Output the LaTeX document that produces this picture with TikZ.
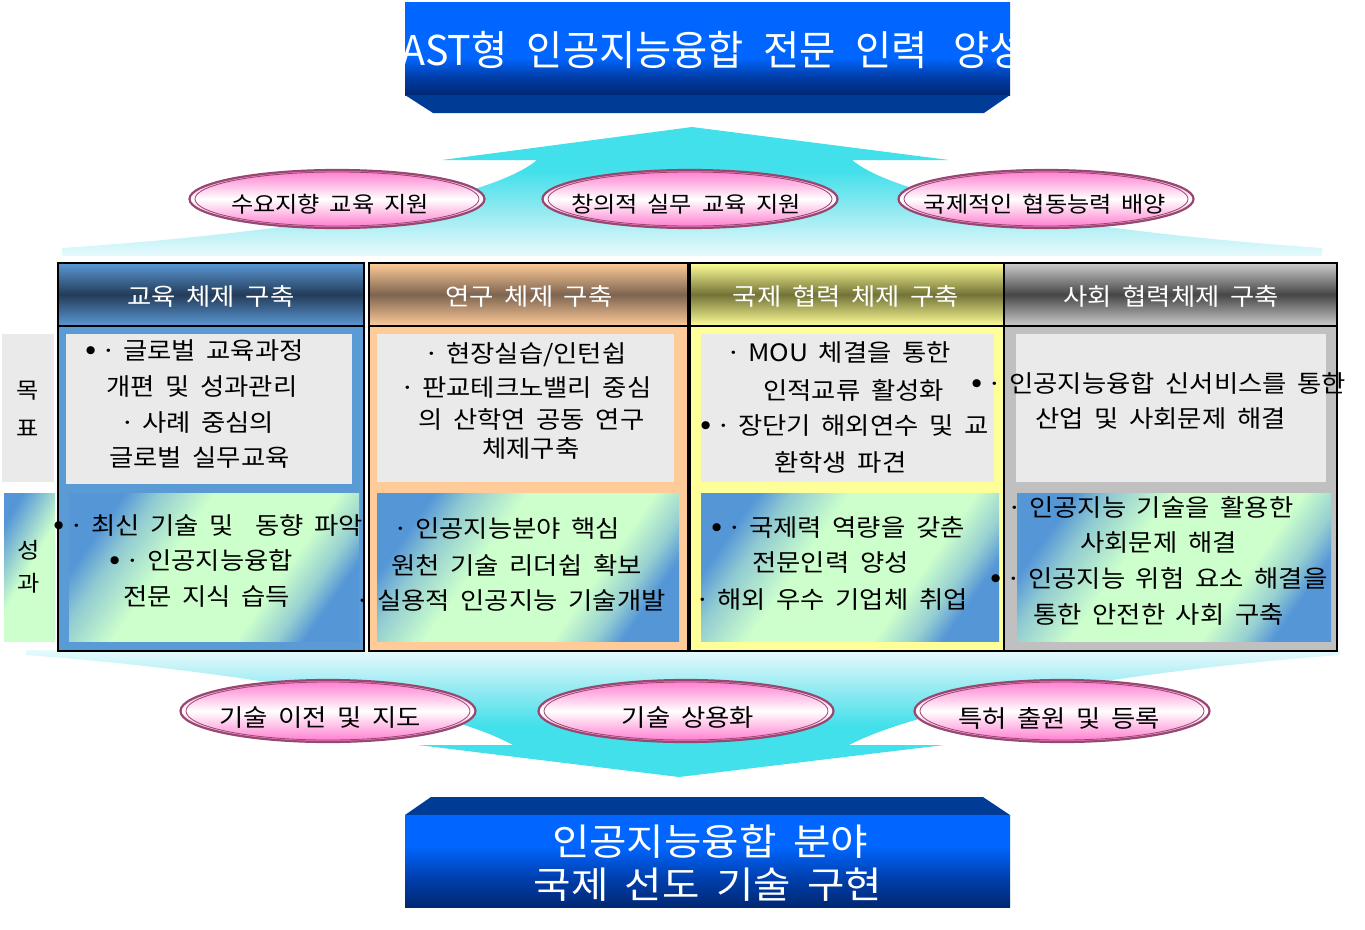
\documentclass[tikz,border=0pt]{standalone}
\usepackage{fontspec}
\setmainfont{Noto Sans CJK KR}[WordSpace=1.8,FakeStretch=1.1]
\newfontfamily\ttlfont{Noto Sans CJK KR}[WordSpace=2.2,FakeStretch=0.96]
\usetikzlibrary{shapes.geometric}
\definecolor{btop}{RGB}{0,102,255}
\definecolor{navy}{RGB}{0,40,115}
\definecolor{bmid}{RGB}{0,62,170}
\definecolor{trap}{RGB}{0,60,150}
\definecolor{cyanA}{RGB}{66,224,234}
\definecolor{cyanM}{RGB}{150,234,242}
\definecolor{cyanP}{RGB}{232,250,252}
\definecolor{pinkE}{RGB}{255,120,205}
\definecolor{ebord}{RGB}{150,72,112}
\definecolor{c1l}{RGB}{92,152,212}
\definecolor{c1d}{RGB}{35,60,90}
\definecolor{c1b}{RGB}{91,155,213}
\definecolor{c2l}{RGB}{255,204,153}
\definecolor{c2d}{RGB}{125,100,80}
\definecolor{c3l}{RGB}{255,255,153}
\definecolor{c3d}{RGB}{115,115,55}
\definecolor{c4l}{RGB}{205,205,205}
\definecolor{c4d}{RGB}{70,70,70}
\definecolor{c4b}{RGB}{192,192,192}
\definecolor{boxg}{RGB}{234,234,234}
\definecolor{rblue}{RGB}{85,150,215}
\definecolor{rgreen}{RGB}{204,255,204}
\pgfdeclareverticalshading{titlesh}{100bp}{color(0bp)=(navy); color(25bp)=(navy); color(35bp)=(bmid); color(45bp)=(btop); color(100bp)=(btop)}
\pgfdeclareverticalshading{botsh}{100bp}{color(0bp)=(navy); color(25bp)=(navy); color(40bp)=(bmid); color(58bp)=(btop); color(100bp)=(btop)}
\pgfdeclareverticalshading{upsh}{100bp}{color(0bp)=(cyanP); color(25bp)=(cyanP); color(42bp)=(cyanM); color(58bp)=(cyanA); color(100bp)=(cyanA)}
\pgfdeclareverticalshading{downsh}{100bp}{color(0bp)=(cyanA); color(45bp)=(cyanA); color(60bp)=(cyanM); color(75bp)=(cyanP); color(100bp)=(cyanP)}
\pgfdeclarehorizontalshading{ressh}{100bp}{color(0bp)=(rblue); color(25bp)=(rblue); color(31bp)=(rgreen!50!rblue); color(41bp)=(rgreen); color(63bp)=(rgreen); color(70bp)=(rgreen!55!rblue); color(75bp)=(rblue); color(100bp)=(rblue)}
\pgfdeclarehorizontalshading{sidesh}{100bp}{color(0bp)=(rblue); color(25bp)=(rblue); color(50bp)=(rgreen); color(100bp)=(rgreen)}
\newcommand\pd{\llap{\makebox[0pt]{·}\hspace{14pt}}}
\newcommand\bl{\llap{\makebox[0pt]{\fontsize{30}{30}\selectfont •}\hspace{32pt}}}
\begin{document}
\begin{tikzpicture}[x=1pt,y=-1pt,
  frame/.style={draw=black,line width=1.8pt},
  hdrtxt/.style={text=white,font=\fontsize{24}{28}\selectfont,inner sep=0pt},
  bt/.style={anchor=west,font=\fontsize{24}{28}\selectfont,inner sep=0pt},
  ell/.style={ellipse,draw=ebord,line width=2.2pt,top color=pinkE,bottom color=pinkE,middle color=white,minimum width=295pt,inner sep=0pt},
  elltxt/.style={font=\fontsize{22}{26}\selectfont,inner sep=0pt},
  bigtxt/.style={text=white,font=\fontsize{37}{45}\selectfont,inner sep=0pt,align=center}]
\useasboundingbox (0,0) rectangle (1365,929);
% up arrow fan
\shade[shading=upsh] (692,127) -- (949,160) -- (852,160) .. controls (900,200) and (1090,232) .. (1322,248) -- (1322,256) -- (62,256) -- (62,248) .. controls (300,232) and (490,200) .. (537,160) -- (442,160) -- cycle;
% down arrow fan
\shade[shading=downsh] (26,650) -- (1340,650) -- (1340,655) .. controls (1166,668) and (936,700) .. (849,745) -- (944,745) -- (679,777) -- (418,745) -- (513,745) .. controls (430,700) and (200,668) .. (26,655) -- cycle;
% title banner
\shade[shading=titlesh] (405,2) rectangle (1010,95);
\fill[trap] (405,95) -- (1010,95) -- (984,113) -- (433,113) -- cycle;
\begin{scope}
\clip (405,2) rectangle (1010,95);
\node[bigtxt,anchor=west,font=\ttlfont\fontsize{41}{48}\selectfont] (title) at (401,50) {AST형 인공지능융합 전문 인력\hspace{26pt}양성};
\end{scope}
% columns
\shade[top color=c1l,bottom color=c1l,middle color=c1d] (58,263) rectangle (364,326);
\fill[c1b] (58,326) rectangle (364,651);
\shade[top color=c2l,bottom color=c2l,middle color=c2d] (369,263) rectangle (688,326);
\fill[c2l] (369,326) rectangle (688,651);
\shade[top color=c3l,bottom color=c3l,middle color=c3d] (690,263) rectangle (1004,326);
\fill[c3l] (690,326) rectangle (1004,651);
\shade[top color=c4l,bottom color=c4l,middle color=c4d] (1004,263) rectangle (1337,326);
\fill[c4b] (1004,326) rectangle (1337,651);
% goal boxes
\fill[boxg] (66,334) rectangle (352,484);
\fill[boxg] (377,334) rectangle (674,482);
\fill[boxg] (701,334) rectangle (994,482);
\fill[boxg] (1016,334) rectangle (1326,482);
\fill[boxg] (2,334) rectangle (54,482);
% result boxes
\shade[shading=ressh,shading angle=-35] (69,493) rectangle (359,641);
\shade[shading=ressh,shading angle=-35] (377,493) rectangle (679,641);
\shade[shading=ressh,shading angle=-35] (701,493) rectangle (999,641);
\shade[shading=ressh,shading angle=-35] (1017,493) rectangle (1331,641);
\shade[shading=sidesh,shading angle=-30] (4,493) rectangle (55,641);
% frames
\draw[frame] (58,263) rectangle (364,651) (58,326) -- (364,326);
\draw[frame] (369,263) rectangle (688,651) (369,326) -- (688,326);
\draw[frame] (690,263) rectangle (1004,651) (690,326) -- (1004,326);
\draw[frame] (1004,263) rectangle (1337,651) (1004,326) -- (1337,326);
% headers
\node[hdrtxt] (h1) at (211,296) {교육 체제 구축};
\node[hdrtxt] (h2) at (529,296) {연구 체제 구축};
\node[hdrtxt] (h3) at (846,296) {국제 협력 체제 구축};
\node[hdrtxt] (h4) at (1171,296) {사회 협력체제 구축};
% side labels
\node[font=\fontsize{22}{38}\selectfont,align=center,inner sep=0pt] (goal) at (28,409) {목\\표};
\node[font=\fontsize{22}{33}\selectfont,align=center,inner sep=0pt] (res) at (29,567) {성\\과};
% column 1
\node[bt] (c1g1) at (123,351) {\bl\pd 글로벌 교육과정};
\node[bt] (c1g2) at (106,387) {개편 및 성과관리};
\node[bt] (c1g3) at (142,423) {\pd 사례 중심의};
\node[bt] (c1g4) at (109,458) {글로벌 실무교육};
\node[bt] (c1r1) at (91,525) {\bl\pd 최신 기술 및\ \ 동향 파악};
\node[bt] (c1r2) at (147,560) {\bl\pd 인공지능융합};
\node[bt] (c1r3) at (123,597) {전문 지식 습득};
% column 2
\node[bt] (c2g1) at (446,355) {\pd 현장실습/인턴쉽};
\node[bt] (c2g2) at (422,388) {\pd 판교테크노밸리 중심};
\node[bt] (c2g3) at (418,419) {의 산학연 공동 연구};
\node[bt] (c2g4) at (482,448) {체제구축};
\node[bt] (c2r1) at (415,529) {\pd 인공지능분야 핵심};
\node[bt] (c2r2) at (391,565) {원천 기술 리더쉽 확보};
\node[bt] (c2r3) at (377,601) {\pd 실용적 인공지능 기술개발};
% column 3
\node[bt] (c3g1) at (748,353) {\pd MOU 체결을 통한};
\node[bt] (c3g2) at (763,390) {인적교류 활성화};
\node[bt] (c3g3) at (738,426) {\bl\pd 장단기 해외연수 및 교};
\node[bt] (c3g4) at (774,462) {환학생 파견};
\node[bt] (c3r1) at (749,528) {\bl\pd 국제력 역량을 갖춘};
\node[bt] (c3r2) at (752,563) {전문인력 양성};
\node[bt] (c3r3) at (717,600) {\pd 해외 우수 기업체 취업};
% column 4
\node[bt] (c4g1) at (1009,383) {\bl\pd 인공지능융합 신서비스를 통한};
\node[bt] (c4g2) at (1035,419) {산업 및 사회문제 해결};
\node[bt] (c4r1) at (1029,507) {\pd 인공지능 기술을 활용한};
\node[bt] (c4r2) at (1080,543) {사회문제 해결};
\node[bt] (c4r3) at (1028,578) {\bl\pd 인공지능 위험 요소 해결을};
\node[bt] (c4r4) at (1033,614) {통한 안전한 사회 구축};
% top ellipses
\foreach \n/\cx in {e1/337,e2/690,e3/1046}{
  \node[ell,minimum height=58pt] (\n) at (\cx,199) {};
  \draw[ebord,line width=0.8pt] (\n.center) ellipse [x radius=142,y radius=27];
}
\node[elltxt] (t1) at (330,204) {수요지향 교육 지원};
\node[elltxt] (t2) at (686,204) {창의적 실무 교육 지원};
\node[elltxt] (t3) at (1045,204) {국제적인 협동능력 배양};
% bottom ellipses
\foreach \n/\cx in {b1/328,b2/686,b3/1062}{
  \node[ell,minimum height=62pt] (\n) at (\cx,711) {};
  \draw[ebord,line width=0.8pt] (\n.center) ellipse [x radius=142,y radius=29];
}
\node[elltxt,font=\fontsize{24}{28}\selectfont] (u1) at (320,718) {기술 이전 및 지도};
\node[elltxt,font=\fontsize{24}{28}\selectfont] (u2) at (688,718) {기술 상용화};
\node[elltxt,font=\fontsize{24}{28}\selectfont] (u3) at (1059,718) {특허 출원 및 등록};
% bottom banner
\fill[trap] (431,797) -- (983,797) -- (1010,815) -- (405,815) -- cycle;
\shade[shading=botsh] (405,815) rectangle (1010,907);
\node[bigtxt] (goalA) at (710,841) {인공지능융합 분야};
\node[bigtxt] (goalB) at (708,885) {국제 선도 기술 구현};
\end{tikzpicture}
\end{document}
